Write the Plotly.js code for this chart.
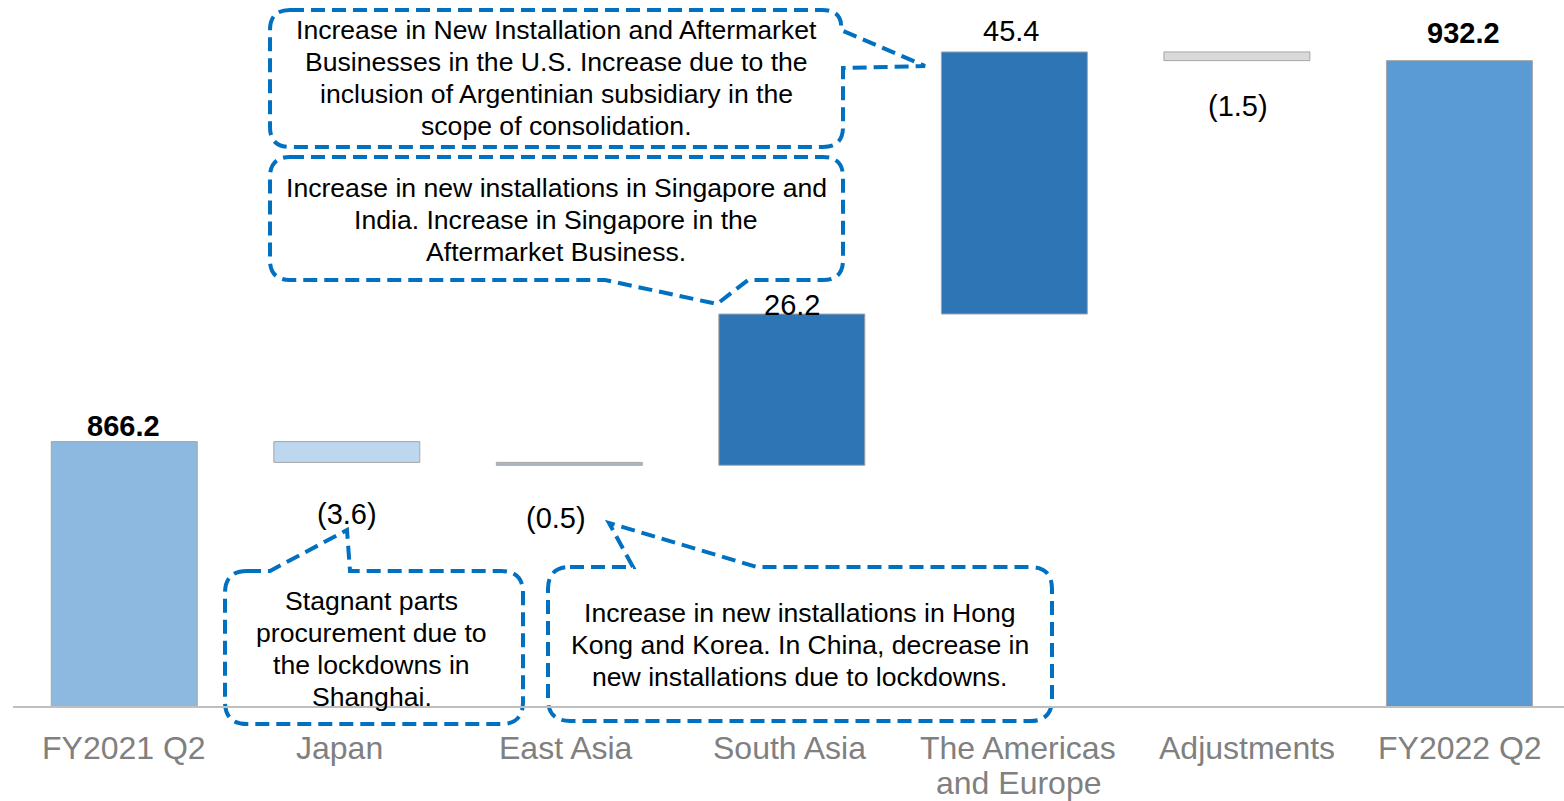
<!DOCTYPE html>
<html>
<head>
<meta charset="utf-8">
<script src="https://cdn.plot.ly/plotly-3.0.1.min.js"></script>
<style>
html, body { margin: 0; padding: 0; background: #ffffff; }
#chart { width: 1564px; height: 801px; }
</style>
</head>
<body>
<div id="chart"></div>
<script>
// ---------------- data ----------------
const categories = ["FY2021 Q2", "Japan", "East Asia", "South Asia", "The Americas<br>and Europe", "Adjustments", "FY2022 Q2"];
const values = [866.2, -3.6, -0.5, 26.2, 45.4, -1.5, 932.2];
const measures = ["total", "relative", "relative", "relative", "relative", "relative", "total"];

const noteAmericas = "Increase in New Installation and Aftermarket<br>Businesses in the U.S. Increase due to the<br>inclusion of Argentinian subsidiary in the<br>scope of consolidation.";
const noteSouthAsia = "Increase in new installations in Singapore and<br>India. Increase in Singapore in the<br>Aftermarket Business.";
const noteJapan = "Stagnant parts<br>procurement due to<br>the lockdowns in<br>Shanghai.";
const noteEastAsia = "Increase in new installations in Hong<br>Kong and Korea. In China, decrease in<br>new installations due to lockdowns.";

// ---------------- styles ----------------
const barColors = ["#8DB8E0", "#BDD7EE", "#AEB8C4", "#2E75B6", "#2E75B6", "#D9D9D9", "#5B9BD5"];
const FONT = "Liberation Sans, Arial, Helvetica, sans-serif";
const AXIS_FLOOR = 820.4;   // value at the axis line
const AXIS_TOP = 942.7;
const TOTAL_BASE = 819.6;   // totals start just under the axis line

// label offsets (pixels) relative to each bar's end
const labelYShift = [16, -52, -53, 9, 21, -45, 28];
const labelXShift = [-1, 0, -13, 0, -3, 1, 4];
// category label offsets (pixels)
const catXShift = [0, -7, -3, -2, 4, 10, 1];
const catFirstLine = 42, catLineStep = 35;

// ---------------- waterfall geometry from the values ----------------
const bases = [], heights = [], ends = [];
let running = 0;
values.forEach((v, i) => {
  if (measures[i] === "total") {
    bases.push(TOTAL_BASE); heights.push(v - TOTAL_BASE); running = v; ends.push(v);
  } else {
    bases.push(running); heights.push(v); running += v; ends.push(running);
  }
});

const trace = {
  type: "bar",
  x: categories,
  y: heights,
  base: bases,
  marker: { color: barColors, line: { color: "#A6A6A6", width: 1 } },
  cliponaxis: false,
  hoverinfo: "skip"
};

// ---------------- layout helpers ----------------
const W = 1564, H = 801;
const M = { l: 13, r: 0, t: 0, b: 95 };
const PW = W - M.l - M.r, PH = H - M.t - M.b;
const px = x => ((x - M.l) / PW).toFixed(5);
const py = y => ((PH + M.t - y) / PH).toFixed(5);
function pathFrom(cmds) {
  return cmds.map(c => {
    const op = c[0];
    if (op === "Z") return "Z";
    let s = op;
    for (let k = 1; k < c.length; k += 2) s += (k > 1 ? " " : "") + px(c[k]) + "," + py(c[k + 1]);
    return s;
  }).join(" ");
}
function calloutShape(cmds) {
  return {
    type: "path", xref: "paper", yref: "paper", layer: "below",
    path: pathFrom(cmds),
    fillcolor: "#ffffff",
    line: { color: "#0070C0", width: 4, dash: "14px,7px" }
  };
}

const shapes = [
  // Americas callout
  calloutShape([
    ["M", 290, 10], ["L", 822, 10], ["Q", 843, 10, 841, 30], ["L", 925, 66], ["L", 843, 68],
    ["L", 843, 127], ["Q", 843, 147, 823, 147], ["L", 290, 147], ["Q", 270, 147, 270, 127],
    ["L", 270, 30], ["Q", 270, 10, 290, 10], ["Z"]
  ]),
  // South Asia callout
  calloutShape([
    ["M", 290, 157], ["L", 823, 157], ["Q", 843, 157, 843, 177], ["L", 843, 260],
    ["Q", 843, 280, 823, 280], ["L", 748, 280], ["L", 717, 304], ["L", 605, 280],
    ["L", 290, 280], ["Q", 270, 280, 270, 260], ["L", 270, 177], ["Q", 270, 157, 290, 157], ["Z"]
  ]),
  // Japan callout
  calloutShape([
    ["M", 247, 571], ["L", 270, 571], ["L", 347, 530], ["L", 350, 571], ["L", 501, 571],
    ["Q", 523, 571, 523, 593], ["L", 523, 702], ["Q", 523, 724, 501, 724], ["L", 247, 724],
    ["Q", 225, 724, 225, 702], ["L", 225, 593], ["Q", 225, 571, 247, 571], ["Z"]
  ]),
  // East Asia callout
  calloutShape([
    ["M", 570, 567], ["L", 633, 567], ["L", 609, 523], ["L", 757, 567], ["L", 1030, 567],
    ["Q", 1052, 567, 1052, 589], ["L", 1052, 699], ["Q", 1052, 721, 1030, 721], ["L", 570, 721],
    ["Q", 548, 721, 548, 699], ["L", 548, 589], ["Q", 548, 567, 570, 567], ["Z"]
  ])
];

// value labels
const annotations = values.map((v, i) => {
  const isTotal = measures[i] === "total";
  const num = Math.abs(v).toFixed(1);
  const txt = isTotal ? "<b>" + num + "</b>" : (v < 0 ? "(" + num + ")" : num);
  return {
    x: categories[i], y: ends[i], xref: "x", yref: "y",
    text: txt, showarrow: false,
    xanchor: "center", yanchor: "middle",
    xshift: labelXShift[i], yshift: labelYShift[i],
    font: { family: FONT, size: 29, color: "#000000" }
  };
});

// category labels under the axis, one annotation per line
categories.forEach((c, i) => {
  c.split("<br>").forEach((line, k) => {
    annotations.push({
      x: c, y: 0, xref: "x", yref: "paper",
      text: line, showarrow: false, xanchor: "center", yanchor: "middle",
      xshift: catXShift[i], yshift: -(catFirstLine + k * catLineStep),
      font: { family: FONT, size: 32, color: "#808080" }
    });
  });
});

// callout texts, one annotation per line so line spacing matches
function noteAnns(text, cx, firstY, step) {
  text.split("<br>").forEach((line, k) => {
    annotations.push({
      x: Number(px(cx)), y: Number(py(firstY + k * step)), xref: "paper", yref: "paper",
      text: line, showarrow: false, xanchor: "center", yanchor: "middle", align: "center",
      font: { family: FONT, size: 26.6, color: "#000000" }
    });
  });
}
noteAnns(noteAmericas, 557, 30, 32);
noteAnns(noteSouthAsia, 556, 188, 32);
noteAnns(noteJapan, 372, 601, 32);
noteAnns(noteEastAsia, 800, 613, 32);

const layout = {
  width: W, height: H,
  margin: M,
  paper_bgcolor: "#ffffff",
  plot_bgcolor: "rgba(0,0,0,0)",
  showlegend: false,
  bargap: 0.344,
  font: { family: FONT },
  xaxis: {
    type: "category",
    range: [-0.5, 6.47],
    showline: true, linecolor: "#BFBFBF", linewidth: 2,
    ticks: "", showgrid: false, zeroline: false,
    showticklabels: false,
    automargin: false,
    fixedrange: true
  },
  yaxis: {
    range: [AXIS_FLOOR, AXIS_TOP],
    showgrid: false, zeroline: false, showline: false, showticklabels: false, ticks: "",
    automargin: false, fixedrange: true
  },
  shapes: shapes,
  annotations: annotations
};

Plotly.newPlot("chart", [trace], layout, { staticPlot: true, displayModeBar: false });
</script>
</body>
</html>
